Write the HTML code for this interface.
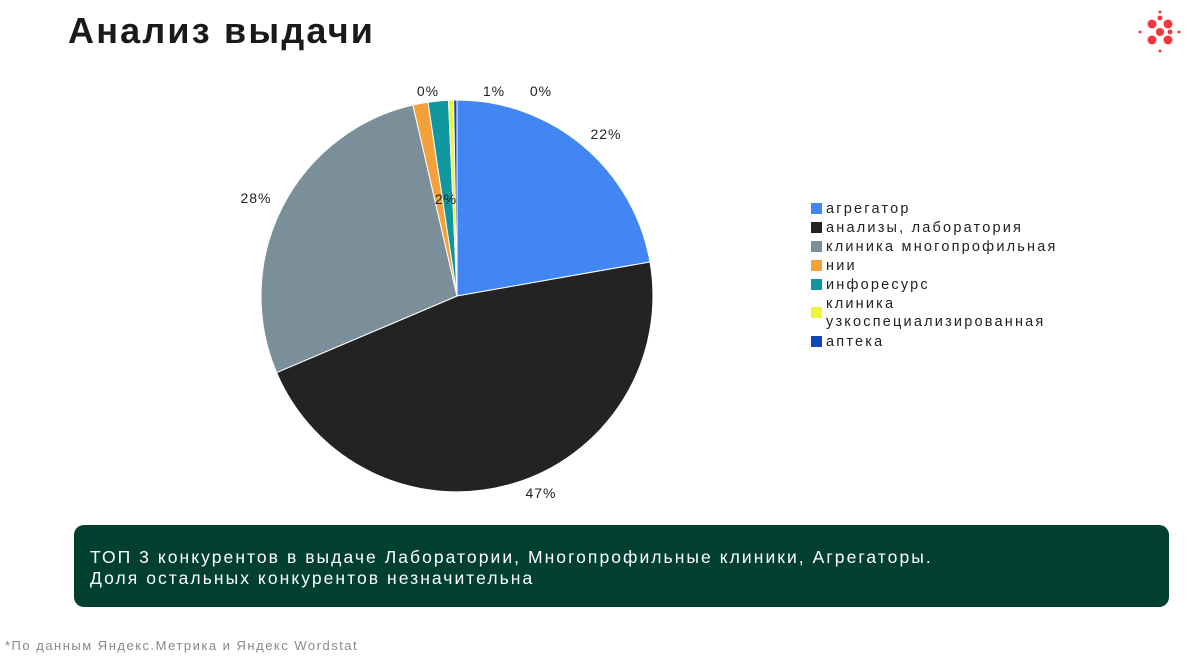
<!DOCTYPE html>
<html><head><meta charset="utf-8"><style>
body{margin:0;width:1198px;height:657px;background:#fff;overflow:hidden;font-family:"Liberation Sans",sans-serif;position:relative}
.t{position:absolute;left:68px;top:10px;font-size:36px;font-weight:bold;color:#1a1a1a;letter-spacing:2.2px}
.box{position:absolute;left:74px;top:525px;width:1095px;height:82px;background:#013f30;border-radius:10px;color:#fff;font-size:17.5px;letter-spacing:2.05px;line-height:21px;box-sizing:border-box;padding:22px 16px;white-space:nowrap}
.f{position:absolute;left:5px;top:638px;font-size:13px;color:#888;letter-spacing:1.5px}
.lg{position:absolute;left:811px;font-size:14.5px;letter-spacing:2.2px;color:#222;line-height:18px;white-space:nowrap}
.lg i{position:absolute;left:0;top:3px;width:11px;height:11px}
.lg span{margin-left:15px;display:block}
</style></head><body>
<div class="t">Анализ выдачи</div>
<svg style="position:absolute;left:0;top:0" width="1198" height="657">
<g stroke="#fff" stroke-width="1">
<path d="M457,296 L457,100 A196,196 0 0 1 650,261.97 Z" fill="#4286f4"/>
<path d="M457,296 L650,261.97 A196,196 0 0 1 276.6,372.6 Z" fill="#232323"/>
<path d="M457,296 L276.6,372.6 A196,196 0 0 1 412.9,105 Z" fill="#7a8f99"/>
<path d="M457,296 L412.9,105 A196,196 0 0 1 428,102.2 Z" fill="#f4a13a"/>
<path d="M457,296 L428,102.2 A196,196 0 0 1 448.5,100.2 Z" fill="#0f97a0"/>
<path d="M457,296 L448.5,100.2 A196,196 0 0 1 453.6,100 Z" fill="#eef53a"/>
<path d="M457,296 L453.6,100 A196,196 0 0 1 457,100 Z" fill="#0d47b8"/>
</g>
<g font-size="14" fill="#222" font-family="Liberation Sans" text-anchor="middle" letter-spacing="1">
<text x="606" y="139">22%</text><text x="541" y="498">47%</text><text x="256" y="203">28%</text>
<text x="428" y="96">0%</text><text x="494" y="96">1%</text><text x="541" y="96">0%</text><text x="446" y="204">2%</text>
</g>
<g fill="#f0393f">
<circle cx="1152" cy="24" r="4.5"/><circle cx="1168" cy="24" r="4.5"/><circle cx="1152" cy="40" r="4.5"/><circle cx="1168" cy="40" r="4.5"/>
<circle cx="1160" cy="32" r="4"/><circle cx="1160" cy="18" r="2.5"/><circle cx="1170" cy="32" r="2.5"/>
<circle cx="1160" cy="12" r="1.5"/><circle cx="1160" cy="51" r="1.5"/><circle cx="1140" cy="32" r="1.5"/><circle cx="1179" cy="32" r="1.5"/>
</g>
</svg>
<div class="lg" style="top:200px"><i style="background:#4286f4"></i><span>агрегатор</span></div>
<div class="lg" style="top:219px"><i style="background:#232323"></i><span>анализы, лаборатория</span></div>
<div class="lg" style="top:238px"><i style="background:#7a8f99"></i><span>клиника многопрофильная</span></div>
<div class="lg" style="top:257px"><i style="background:#f4a13a"></i><span>нии</span></div>
<div class="lg" style="top:276px"><i style="background:#0f97a0"></i><span>инфоресурс</span></div>
<div class="lg" style="top:295px"><i style="background:#eef53a;top:12px"></i><span>клиника<br>узкоспециализированная</span></div>
<div class="lg" style="top:333px"><i style="background:#0d47b8"></i><span>аптека</span></div>
<div class="box">ТОП 3 конкурентов в выдаче Лаборатории, Многопрофильные клиники, Агрегаторы.<br>Доля остальных конкурентов незначительна</div>
<div class="f">*По данным Яндекс.Метрика и Яндекс Wordstat</div>
</body></html>
